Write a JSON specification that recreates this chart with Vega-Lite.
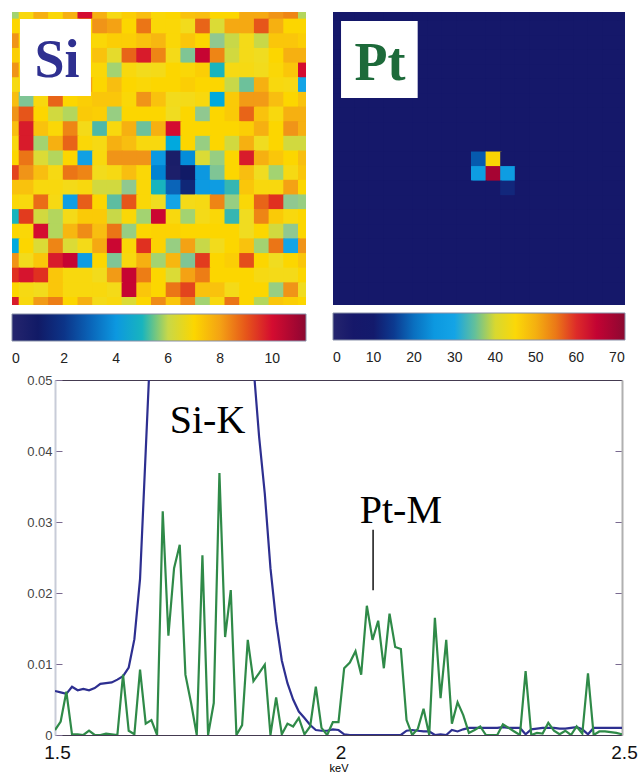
{"$schema":"https://vega.github.io/schema/vega-lite/v6.json","padding":{"left":9,"top":12,"right":0,"bottom":0},"background":"white","config":{"font":"Liberation Sans","view":{"stroke":null}},"bounds":"flush","spacing":368,"vconcat":[{"spacing":27,"bounds":"flush","hconcat":[{"width":294,"height":293,"layer":[{"data":{"values":[
{"c":0,"r":0,"v":5.8},{"c":1,"r":0,"v":6.8},{"c":2,"r":0,"v":7.8},{"c":3,"r":0,"v":6.9},{"c":4,"r":0,"v":7.8},{"c":5,"r":0,"v":10},{"c":6,"r":0,"v":7.8},{"c":7,"r":0,"v":6.7},{"c":8,"r":0,"v":7.2},{"c":9,"r":0,"v":7.6},{"c":10,"r":0,"v":6.9},{"c":11,"r":0,"v":7},{"c":12,"r":0,"v":7.5},{"c":13,"r":0,"v":7.6},{"c":14,"r":0,"v":7},{"c":15,"r":0,"v":7},{"c":16,"r":0,"v":7.9},{"c":17,"r":0,"v":7.9},{"c":18,"r":0,"v":8.2},{"c":19,"r":0,"v":8.4},{"c":20,"r":0,"v":5.9},
{"c":0,"r":1,"v":7},{"c":1,"r":1,"v":7},{"c":2,"r":1,"v":7},{"c":3,"r":1,"v":7},{"c":4,"r":1,"v":7},{"c":5,"r":1,"v":7},{"c":6,"r":1,"v":8.2},{"c":7,"r":1,"v":8},{"c":8,"r":1,"v":7},{"c":9,"r":1,"v":8.6},{"c":10,"r":1,"v":6.9},{"c":11,"r":1,"v":6.9},{"c":12,"r":1,"v":6.5},{"c":13,"r":1,"v":8.8},{"c":14,"r":1,"v":6.2},{"c":15,"r":1,"v":7.9},{"c":16,"r":1,"v":7.9},{"c":17,"r":1,"v":9},{"c":18,"r":1,"v":7.8},{"c":19,"r":1,"v":7},{"c":20,"r":1,"v":7},
{"c":0,"r":2,"v":8.2},{"c":1,"r":2,"v":7},{"c":2,"r":2,"v":7},{"c":3,"r":2,"v":7},{"c":4,"r":2,"v":7},{"c":5,"r":2,"v":7},{"c":6,"r":2,"v":6.9},{"c":7,"r":2,"v":7.2},{"c":8,"r":2,"v":7.2},{"c":9,"r":2,"v":7.5},{"c":10,"r":2,"v":7.7},{"c":11,"r":2,"v":6.9},{"c":12,"r":2,"v":7.4},{"c":13,"r":2,"v":7},{"c":14,"r":2,"v":5.6},{"c":15,"r":2,"v":6},{"c":16,"r":2,"v":6.6},{"c":17,"r":2,"v":6},{"c":18,"r":2,"v":7.4},{"c":19,"r":2,"v":7.4},{"c":20,"r":2,"v":7.2},
{"c":0,"r":3,"v":7.2},{"c":1,"r":3,"v":7},{"c":2,"r":3,"v":7},{"c":3,"r":3,"v":7},{"c":4,"r":3,"v":7},{"c":5,"r":3,"v":7},{"c":6,"r":3,"v":7.5},{"c":7,"r":3,"v":6.3},{"c":8,"r":3,"v":8.8},{"c":9,"r":3,"v":9.8},{"c":10,"r":3,"v":8.4},{"c":11,"r":3,"v":6.6},{"c":12,"r":3,"v":5.5},{"c":13,"r":3,"v":10.3},{"c":14,"r":3,"v":8.4},{"c":15,"r":3,"v":6.1},{"c":16,"r":3,"v":6.6},{"c":17,"r":3,"v":6.4},{"c":18,"r":3,"v":7},{"c":19,"r":3,"v":7.8},{"c":20,"r":3,"v":7.8},
{"c":0,"r":4,"v":8.2},{"c":1,"r":4,"v":7},{"c":2,"r":4,"v":7},{"c":3,"r":4,"v":7},{"c":4,"r":4,"v":7},{"c":5,"r":4,"v":7},{"c":6,"r":4,"v":6.9},{"c":7,"r":4,"v":5.8},{"c":8,"r":4,"v":6.8},{"c":9,"r":4,"v":6.5},{"c":10,"r":4,"v":6.6},{"c":11,"r":4,"v":7},{"c":12,"r":4,"v":6.9},{"c":13,"r":4,"v":7.2},{"c":14,"r":4,"v":5},{"c":15,"r":4,"v":6.7},{"c":16,"r":4,"v":6.7},{"c":17,"r":4,"v":6.5},{"c":18,"r":4,"v":6.9},{"c":19,"r":4,"v":7.4},{"c":20,"r":4,"v":10},
{"c":0,"r":5,"v":6.7},{"c":1,"r":5,"v":7},{"c":2,"r":5,"v":7},{"c":3,"r":5,"v":7},{"c":4,"r":5,"v":7},{"c":5,"r":5,"v":8},{"c":6,"r":5,"v":7},{"c":7,"r":5,"v":7.6},{"c":8,"r":5,"v":7},{"c":9,"r":5,"v":6.9},{"c":10,"r":5,"v":7},{"c":11,"r":5,"v":7},{"c":12,"r":5,"v":7.2},{"c":13,"r":5,"v":7},{"c":14,"r":5,"v":7},{"c":15,"r":5,"v":6},{"c":16,"r":5,"v":5.4},{"c":17,"r":5,"v":7.8},{"c":18,"r":5,"v":6.8},{"c":19,"r":5,"v":6.7},{"c":20,"r":5,"v":4.6},
{"c":0,"r":6,"v":7.6},{"c":1,"r":6,"v":5.5},{"c":2,"r":6,"v":6.8},{"c":3,"r":6,"v":8.8},{"c":4,"r":6,"v":7},{"c":5,"r":6,"v":7.2},{"c":6,"r":6,"v":7.4},{"c":7,"r":6,"v":7.4},{"c":8,"r":6,"v":6.9},{"c":9,"r":6,"v":8.2},{"c":10,"r":6,"v":7.5},{"c":11,"r":6,"v":6.5},{"c":12,"r":6,"v":6.6},{"c":13,"r":6,"v":6.8},{"c":14,"r":6,"v":4.7},{"c":15,"r":6,"v":7.3},{"c":16,"r":6,"v":8.1},{"c":17,"r":6,"v":8.1},{"c":18,"r":6,"v":7.6},{"c":19,"r":6,"v":7},{"c":20,"r":6,"v":7.5},
{"c":0,"r":7,"v":8.2},{"c":1,"r":7,"v":9},{"c":2,"r":7,"v":7},{"c":3,"r":7,"v":6.1},{"c":4,"r":7,"v":5.9},{"c":5,"r":7,"v":7.3},{"c":6,"r":7,"v":7.2},{"c":7,"r":7,"v":5.7},{"c":8,"r":7,"v":7},{"c":9,"r":7,"v":7},{"c":10,"r":7,"v":7},{"c":11,"r":7,"v":6.4},{"c":12,"r":7,"v":7},{"c":13,"r":7,"v":5.6},{"c":14,"r":7,"v":7},{"c":15,"r":7,"v":7.3},{"c":16,"r":7,"v":8.8},{"c":17,"r":7,"v":7.5},{"c":18,"r":7,"v":6.8},{"c":19,"r":7,"v":7.8},{"c":20,"r":7,"v":7.8},
{"c":0,"r":8,"v":7.6},{"c":1,"r":8,"v":9.8},{"c":2,"r":8,"v":7.5},{"c":3,"r":8,"v":6.9},{"c":4,"r":8,"v":8.4},{"c":5,"r":8,"v":6.6},{"c":6,"r":8,"v":5.2},{"c":7,"r":8,"v":6.8},{"c":8,"r":8,"v":7.8},{"c":9,"r":8,"v":5.4},{"c":10,"r":8,"v":7.8},{"c":11,"r":8,"v":10},{"c":12,"r":8,"v":7},{"c":13,"r":8,"v":7},{"c":14,"r":8,"v":7},{"c":15,"r":8,"v":7},{"c":16,"r":8,"v":7.2},{"c":17,"r":8,"v":7.8},{"c":18,"r":8,"v":7},{"c":19,"r":8,"v":8.2},{"c":20,"r":8,"v":7.8},
{"c":0,"r":9,"v":6.8},{"c":1,"r":9,"v":9.8},{"c":2,"r":9,"v":5.8},{"c":3,"r":9,"v":7.8},{"c":4,"r":9,"v":8.8},{"c":5,"r":9,"v":6.9},{"c":6,"r":9,"v":6.7},{"c":7,"r":9,"v":7.8},{"c":8,"r":9,"v":7.6},{"c":9,"r":9,"v":6.8},{"c":10,"r":9,"v":6.8},{"c":11,"r":9,"v":4.7},{"c":12,"r":9,"v":7},{"c":13,"r":9,"v":5.7},{"c":14,"r":9,"v":7},{"c":15,"r":9,"v":6.1},{"c":16,"r":9,"v":7.8},{"c":17,"r":9,"v":6.4},{"c":18,"r":9,"v":7},{"c":19,"r":9,"v":6.1},{"c":20,"r":9,"v":6.1},
{"c":0,"r":10,"v":7},{"c":1,"r":10,"v":8.6},{"c":2,"r":10,"v":6.2},{"c":3,"r":10,"v":5.9},{"c":4,"r":10,"v":7},{"c":5,"r":10,"v":4.4},{"c":6,"r":10,"v":6.8},{"c":7,"r":10,"v":8.2},{"c":8,"r":10,"v":8.2},{"c":9,"r":10,"v":8.2},{"c":10,"r":10,"v":4},{"c":11,"r":10,"v":0.6},{"c":12,"r":10,"v":3.8},{"c":13,"r":10,"v":6.2},{"c":14,"r":10,"v":5.7},{"c":15,"r":10,"v":7},{"c":16,"r":10,"v":9.8},{"c":17,"r":10,"v":7.8},{"c":18,"r":10,"v":7.4},{"c":19,"r":10,"v":7},{"c":20,"r":10,"v":7.6},
{"c":0,"r":11,"v":9.2},{"c":1,"r":11,"v":8.2},{"c":2,"r":11,"v":7.6},{"c":3,"r":11,"v":6.7},{"c":4,"r":11,"v":8.6},{"c":5,"r":11,"v":8.4},{"c":6,"r":11,"v":6.5},{"c":7,"r":11,"v":6.7},{"c":8,"r":11,"v":7.6},{"c":9,"r":11,"v":6.9},{"c":10,"r":11,"v":3.6},{"c":11,"r":11,"v":0.5},{"c":12,"r":11,"v":1},{"c":13,"r":11,"v":4},{"c":14,"r":11,"v":5.5},{"c":15,"r":11,"v":7},{"c":16,"r":11,"v":7.6},{"c":17,"r":11,"v":6.4},{"c":18,"r":11,"v":5.8},{"c":19,"r":11,"v":6.7},{"c":20,"r":11,"v":7.4},
{"c":0,"r":12,"v":7.5},{"c":1,"r":12,"v":7.5},{"c":2,"r":12,"v":6.8},{"c":3,"r":12,"v":6.8},{"c":4,"r":12,"v":6.6},{"c":5,"r":12,"v":6.8},{"c":6,"r":12,"v":6.1},{"c":7,"r":12,"v":6.1},{"c":8,"r":12,"v":5.6},{"c":9,"r":12,"v":6.9},{"c":10,"r":12,"v":5},{"c":11,"r":12,"v":3},{"c":12,"r":12,"v":1.5},{"c":13,"r":12,"v":4.1},{"c":14,"r":12,"v":4.2},{"c":15,"r":12,"v":5.1},{"c":16,"r":12,"v":7.4},{"c":17,"r":12,"v":6.8},{"c":18,"r":12,"v":6.8},{"c":19,"r":12,"v":8},{"c":20,"r":12,"v":7},
{"c":0,"r":13,"v":6.9},{"c":1,"r":13,"v":6.8},{"c":2,"r":13,"v":8.7},{"c":3,"r":13,"v":6.7},{"c":4,"r":13,"v":4.3},{"c":5,"r":13,"v":8.9},{"c":6,"r":13,"v":7},{"c":7,"r":13,"v":5.3},{"c":8,"r":13,"v":9},{"c":9,"r":13,"v":6.9},{"c":10,"r":13,"v":6.4},{"c":11,"r":13,"v":4.6},{"c":12,"r":13,"v":6.6},{"c":13,"r":13,"v":6.7},{"c":14,"r":13,"v":8.4},{"c":15,"r":13,"v":5.7},{"c":16,"r":13,"v":6.9},{"c":17,"r":13,"v":8.8},{"c":18,"r":13,"v":9.4},{"c":19,"r":13,"v":5.6},{"c":20,"r":13,"v":5.7},
{"c":0,"r":14,"v":5},{"c":1,"r":14,"v":9.3},{"c":2,"r":14,"v":6.1},{"c":3,"r":14,"v":5.9},{"c":4,"r":14,"v":6.6},{"c":5,"r":14,"v":7.3},{"c":6,"r":14,"v":7.3},{"c":7,"r":14,"v":6},{"c":8,"r":14,"v":6.9},{"c":9,"r":14,"v":5.8},{"c":10,"r":14,"v":10.2},{"c":11,"r":14,"v":6.8},{"c":12,"r":14,"v":5.8},{"c":13,"r":14,"v":6.6},{"c":14,"r":14,"v":6.9},{"c":15,"r":14,"v":5.1},{"c":16,"r":14,"v":6.4},{"c":17,"r":14,"v":8.4},{"c":18,"r":14,"v":7.3},{"c":19,"r":14,"v":6.8},{"c":20,"r":14,"v":7},
{"c":0,"r":15,"v":7},{"c":1,"r":15,"v":6.9},{"c":2,"r":15,"v":10},{"c":3,"r":15,"v":5.9},{"c":4,"r":15,"v":7.7},{"c":5,"r":15,"v":8.3},{"c":6,"r":15,"v":7.6},{"c":7,"r":15,"v":8.6},{"c":8,"r":15,"v":5.7},{"c":9,"r":15,"v":7},{"c":10,"r":15,"v":7.1},{"c":11,"r":15,"v":7.1},{"c":12,"r":15,"v":7},{"c":13,"r":15,"v":7},{"c":14,"r":15,"v":7},{"c":15,"r":15,"v":7},{"c":16,"r":15,"v":6.4},{"c":17,"r":15,"v":7},{"c":18,"r":15,"v":6.1},{"c":19,"r":15,"v":5.6},{"c":20,"r":15,"v":7},
{"c":0,"r":16,"v":4.7},{"c":1,"r":16,"v":7},{"c":2,"r":16,"v":6.2},{"c":3,"r":16,"v":8.4},{"c":4,"r":16,"v":6.2},{"c":5,"r":16,"v":6.6},{"c":6,"r":16,"v":7.9},{"c":7,"r":16,"v":10.2},{"c":8,"r":16,"v":6.9},{"c":9,"r":16,"v":9.4},{"c":10,"r":16,"v":7.1},{"c":11,"r":16,"v":5.7},{"c":12,"r":16,"v":8},{"c":13,"r":16,"v":6},{"c":14,"r":16,"v":6.5},{"c":15,"r":16,"v":7},{"c":16,"r":16,"v":7.5},{"c":17,"r":16,"v":5.8},{"c":18,"r":16,"v":8.6},{"c":19,"r":16,"v":4.6},{"c":20,"r":16,"v":8.2},
{"c":0,"r":17,"v":8.2},{"c":1,"r":17,"v":6.5},{"c":2,"r":17,"v":7.4},{"c":3,"r":17,"v":9.8},{"c":4,"r":17,"v":10.3},{"c":5,"r":17,"v":4.2},{"c":6,"r":17,"v":7},{"c":7,"r":17,"v":5.5},{"c":8,"r":17,"v":6.8},{"c":9,"r":17,"v":7.8},{"c":10,"r":17,"v":5.8},{"c":11,"r":17,"v":7.7},{"c":12,"r":17,"v":5.5},{"c":13,"r":17,"v":9.3},{"c":14,"r":17,"v":7},{"c":15,"r":17,"v":7.2},{"c":16,"r":17,"v":9.1},{"c":17,"r":17,"v":7},{"c":18,"r":17,"v":6.4},{"c":19,"r":17,"v":7},{"c":20,"r":17,"v":7.4},
{"c":0,"r":18,"v":9.4},{"c":1,"r":18,"v":9.9},{"c":2,"r":18,"v":9.4},{"c":3,"r":18,"v":7.4},{"c":4,"r":18,"v":6.8},{"c":5,"r":18,"v":6.8},{"c":6,"r":18,"v":6.5},{"c":7,"r":18,"v":8.1},{"c":8,"r":18,"v":10.3},{"c":9,"r":18,"v":8.5},{"c":10,"r":18,"v":7},{"c":11,"r":18,"v":6.2},{"c":12,"r":18,"v":8},{"c":13,"r":18,"v":8.5},{"c":14,"r":18,"v":7},{"c":15,"r":18,"v":7},{"c":16,"r":18,"v":7},{"c":17,"r":18,"v":6.7},{"c":18,"r":18,"v":6.6},{"c":19,"r":18,"v":6.6},{"c":20,"r":18,"v":7},
{"c":0,"r":19,"v":7},{"c":1,"r":19,"v":6.7},{"c":2,"r":19,"v":6.5},{"c":3,"r":19,"v":7.4},{"c":4,"r":19,"v":6.8},{"c":5,"r":19,"v":6.8},{"c":6,"r":19,"v":6.8},{"c":7,"r":19,"v":6.6},{"c":8,"r":19,"v":10.3},{"c":9,"r":19,"v":7.4},{"c":10,"r":19,"v":7},{"c":11,"r":19,"v":8.6},{"c":12,"r":19,"v":9.2},{"c":13,"r":19,"v":7.5},{"c":14,"r":19,"v":7.5},{"c":15,"r":19,"v":6.6},{"c":16,"r":19,"v":7},{"c":17,"r":19,"v":7},{"c":18,"r":19,"v":5.7},{"c":19,"r":19,"v":8.2},{"c":20,"r":19,"v":6.4},
{"c":0,"r":20,"v":9.8},{"c":1,"r":20,"v":6.8},{"c":2,"r":20,"v":8.1},{"c":3,"r":20,"v":8.5},{"c":4,"r":20,"v":7},{"c":5,"r":20,"v":7.8},{"c":6,"r":20,"v":6.6},{"c":7,"r":20,"v":6.8},{"c":8,"r":20,"v":6.2},{"c":9,"r":20,"v":7},{"c":10,"r":20,"v":8.3},{"c":11,"r":20,"v":7.4},{"c":12,"r":20,"v":8.4},{"c":13,"r":20,"v":5.8},{"c":14,"r":20,"v":6.8},{"c":15,"r":20,"v":8.6},{"c":16,"r":20,"v":7},{"c":17,"r":20,"v":5.9},{"c":18,"r":20,"v":7.4},{"c":19,"r":20,"v":7.2},{"c":20,"r":20,"v":7}
]},"mark":{"type":"rect","width":16,"height":16,"clip":true},"encoding":{"x":{"field":"c","type":"quantitative","scale":{"domain":[0,20]},"axis":null},"y":{"field":"r","type":"quantitative","scale":{"domain":[0,20],"reverse":true},"axis":null},"color":{"field":"v","type":"quantitative","scale":{"domain":[0,1,2,3,4,4.6,5.2,5.6,6,6.4,7,7.6,8.2,8.8,9.4,10,10.6,11.3],"range":["#25256e","#111a66","#0c3488","#0a64b8","#0c98e0","#14a4e6","#4db8a8","#90c890","#c8d848","#f0dc20","#fcd600","#f8be10","#f09418","#e86418","#e03020","#d40c30","#b80034","#8a0a30"]},"legend":{"orient":"none","legendX":0,"legendY":302,"direction":"horizontal","title":null,"gradientLength":294,"gradientThickness":27,"gradientStrokeColor":"#8890a8","gradientStrokeWidth":1,"values":[0,2,4,6,8,10],"labelFontSize":14,"labelColor":"#222","labelOffset":11}}}},{"data":{"values":[{}]},"mark":{"type":"rect","color":"white"},"encoding":{"x":{"datum":0.54,"type":"quantitative"},"x2":{"datum":5.37},"y":{"datum":0.48,"type":"quantitative"},"y2":{"datum":5.73}}},{"data":{"values":[{"t":"Si"}]},"mark":{"type":"text","font":"Liberation Serif","fontWeight":"bold","fontSize":54,"color":"#2f3090","baseline":"alphabetic","align":"center"},"encoding":{"text":{"field":"t"},"x":{"datum":3.06,"type":"quantitative"},"y":{"datum":4.44,"type":"quantitative"}}}],"resolve":{"scale":{"color":"independent"}}},
{"width":292,"height":293,"layer":[{"data":{"values":[
{"c":0,"r":0,"v":6},{"c":1,"r":0,"v":6},{"c":2,"r":0,"v":6},{"c":3,"r":0,"v":6},{"c":4,"r":0,"v":6},{"c":5,"r":0,"v":6},{"c":6,"r":0,"v":6},{"c":7,"r":0,"v":6},{"c":8,"r":0,"v":6},{"c":9,"r":0,"v":6},{"c":10,"r":0,"v":6},{"c":11,"r":0,"v":6},{"c":12,"r":0,"v":6},{"c":13,"r":0,"v":6},{"c":14,"r":0,"v":6},{"c":15,"r":0,"v":6},{"c":16,"r":0,"v":6},{"c":17,"r":0,"v":6},{"c":18,"r":0,"v":6},{"c":19,"r":0,"v":6},{"c":20,"r":0,"v":6},
{"c":0,"r":1,"v":6},{"c":1,"r":1,"v":6},{"c":2,"r":1,"v":6},{"c":3,"r":1,"v":6},{"c":4,"r":1,"v":6},{"c":5,"r":1,"v":6},{"c":6,"r":1,"v":6},{"c":7,"r":1,"v":6},{"c":8,"r":1,"v":6},{"c":9,"r":1,"v":6},{"c":10,"r":1,"v":6},{"c":11,"r":1,"v":6},{"c":12,"r":1,"v":6},{"c":13,"r":1,"v":6},{"c":14,"r":1,"v":6},{"c":15,"r":1,"v":6},{"c":16,"r":1,"v":6},{"c":17,"r":1,"v":6},{"c":18,"r":1,"v":6},{"c":19,"r":1,"v":6},{"c":20,"r":1,"v":6},
{"c":0,"r":2,"v":6},{"c":1,"r":2,"v":6},{"c":2,"r":2,"v":6},{"c":3,"r":2,"v":6},{"c":4,"r":2,"v":6},{"c":5,"r":2,"v":6},{"c":6,"r":2,"v":6},{"c":7,"r":2,"v":6},{"c":8,"r":2,"v":6},{"c":9,"r":2,"v":6},{"c":10,"r":2,"v":6},{"c":11,"r":2,"v":6},{"c":12,"r":2,"v":6},{"c":13,"r":2,"v":6},{"c":14,"r":2,"v":6},{"c":15,"r":2,"v":6},{"c":16,"r":2,"v":6},{"c":17,"r":2,"v":6},{"c":18,"r":2,"v":6},{"c":19,"r":2,"v":6},{"c":20,"r":2,"v":6},
{"c":0,"r":3,"v":6},{"c":1,"r":3,"v":6},{"c":2,"r":3,"v":6},{"c":3,"r":3,"v":6},{"c":4,"r":3,"v":6},{"c":5,"r":3,"v":6},{"c":6,"r":3,"v":6},{"c":7,"r":3,"v":6},{"c":8,"r":3,"v":6},{"c":9,"r":3,"v":6},{"c":10,"r":3,"v":6},{"c":11,"r":3,"v":6},{"c":12,"r":3,"v":6},{"c":13,"r":3,"v":6},{"c":14,"r":3,"v":6},{"c":15,"r":3,"v":6},{"c":16,"r":3,"v":6},{"c":17,"r":3,"v":6},{"c":18,"r":3,"v":6},{"c":19,"r":3,"v":6},{"c":20,"r":3,"v":6},
{"c":0,"r":4,"v":6},{"c":1,"r":4,"v":6},{"c":2,"r":4,"v":6},{"c":3,"r":4,"v":6},{"c":4,"r":4,"v":6},{"c":5,"r":4,"v":6},{"c":6,"r":4,"v":6},{"c":7,"r":4,"v":6},{"c":8,"r":4,"v":6},{"c":9,"r":4,"v":6},{"c":10,"r":4,"v":6},{"c":11,"r":4,"v":6},{"c":12,"r":4,"v":6},{"c":13,"r":4,"v":6},{"c":14,"r":4,"v":6},{"c":15,"r":4,"v":6},{"c":16,"r":4,"v":6},{"c":17,"r":4,"v":6},{"c":18,"r":4,"v":6},{"c":19,"r":4,"v":6},{"c":20,"r":4,"v":6},
{"c":0,"r":5,"v":6},{"c":1,"r":5,"v":6},{"c":2,"r":5,"v":6},{"c":3,"r":5,"v":6},{"c":4,"r":5,"v":6},{"c":5,"r":5,"v":6},{"c":6,"r":5,"v":6},{"c":7,"r":5,"v":6},{"c":8,"r":5,"v":6},{"c":9,"r":5,"v":6},{"c":10,"r":5,"v":6},{"c":11,"r":5,"v":6},{"c":12,"r":5,"v":6},{"c":13,"r":5,"v":6},{"c":14,"r":5,"v":6},{"c":15,"r":5,"v":6},{"c":16,"r":5,"v":6},{"c":17,"r":5,"v":6},{"c":18,"r":5,"v":6},{"c":19,"r":5,"v":6},{"c":20,"r":5,"v":6},
{"c":0,"r":6,"v":6},{"c":1,"r":6,"v":6},{"c":2,"r":6,"v":6},{"c":3,"r":6,"v":6},{"c":4,"r":6,"v":6},{"c":5,"r":6,"v":6},{"c":6,"r":6,"v":6},{"c":7,"r":6,"v":6},{"c":8,"r":6,"v":6},{"c":9,"r":6,"v":6},{"c":10,"r":6,"v":6},{"c":11,"r":6,"v":6},{"c":12,"r":6,"v":6},{"c":13,"r":6,"v":6},{"c":14,"r":6,"v":6},{"c":15,"r":6,"v":6},{"c":16,"r":6,"v":6},{"c":17,"r":6,"v":6},{"c":18,"r":6,"v":6},{"c":19,"r":6,"v":6},{"c":20,"r":6,"v":6},
{"c":0,"r":7,"v":6},{"c":1,"r":7,"v":6},{"c":2,"r":7,"v":6},{"c":3,"r":7,"v":6},{"c":4,"r":7,"v":6},{"c":5,"r":7,"v":6},{"c":6,"r":7,"v":6},{"c":7,"r":7,"v":6},{"c":8,"r":7,"v":6},{"c":9,"r":7,"v":6},{"c":10,"r":7,"v":6},{"c":11,"r":7,"v":6},{"c":12,"r":7,"v":6},{"c":13,"r":7,"v":6},{"c":14,"r":7,"v":6},{"c":15,"r":7,"v":6},{"c":16,"r":7,"v":6},{"c":17,"r":7,"v":6},{"c":18,"r":7,"v":6},{"c":19,"r":7,"v":6},{"c":20,"r":7,"v":6},
{"c":0,"r":8,"v":6},{"c":1,"r":8,"v":6},{"c":2,"r":8,"v":6},{"c":3,"r":8,"v":6},{"c":4,"r":8,"v":6},{"c":5,"r":8,"v":6},{"c":6,"r":8,"v":6},{"c":7,"r":8,"v":6},{"c":8,"r":8,"v":6},{"c":9,"r":8,"v":6},{"c":10,"r":8,"v":6},{"c":11,"r":8,"v":6},{"c":12,"r":8,"v":6},{"c":13,"r":8,"v":6},{"c":14,"r":8,"v":6},{"c":15,"r":8,"v":6},{"c":16,"r":8,"v":6},{"c":17,"r":8,"v":6},{"c":18,"r":8,"v":6},{"c":19,"r":8,"v":6},{"c":20,"r":8,"v":6},
{"c":0,"r":9,"v":6},{"c":1,"r":9,"v":6},{"c":2,"r":9,"v":6},{"c":3,"r":9,"v":6},{"c":4,"r":9,"v":6},{"c":5,"r":9,"v":6},{"c":6,"r":9,"v":6},{"c":7,"r":9,"v":6},{"c":8,"r":9,"v":6},{"c":9,"r":9,"v":6},{"c":10,"r":9,"v":6},{"c":11,"r":9,"v":6},{"c":12,"r":9,"v":6},{"c":13,"r":9,"v":6},{"c":14,"r":9,"v":6},{"c":15,"r":9,"v":6},{"c":16,"r":9,"v":6},{"c":17,"r":9,"v":6},{"c":18,"r":9,"v":6},{"c":19,"r":9,"v":6},{"c":20,"r":9,"v":6},
{"c":0,"r":10,"v":6},{"c":1,"r":10,"v":6},{"c":2,"r":10,"v":6},{"c":3,"r":10,"v":6},{"c":4,"r":10,"v":6},{"c":5,"r":10,"v":6},{"c":6,"r":10,"v":6},{"c":7,"r":10,"v":6},{"c":8,"r":10,"v":6},{"c":9,"r":10,"v":6},{"c":10,"r":10,"v":18},{"c":11,"r":10,"v":46},{"c":12,"r":10,"v":6},{"c":13,"r":10,"v":6},{"c":14,"r":10,"v":6},{"c":15,"r":10,"v":6},{"c":16,"r":10,"v":6},{"c":17,"r":10,"v":6},{"c":18,"r":10,"v":6},{"c":19,"r":10,"v":6},{"c":20,"r":10,"v":6},
{"c":0,"r":11,"v":6},{"c":1,"r":11,"v":6},{"c":2,"r":11,"v":6},{"c":3,"r":11,"v":6},{"c":4,"r":11,"v":6},{"c":5,"r":11,"v":6},{"c":6,"r":11,"v":6},{"c":7,"r":11,"v":6},{"c":8,"r":11,"v":6},{"c":9,"r":11,"v":6},{"c":10,"r":11,"v":27},{"c":11,"r":11,"v":69},{"c":12,"r":11,"v":27},{"c":13,"r":11,"v":6},{"c":14,"r":11,"v":6},{"c":15,"r":11,"v":6},{"c":16,"r":11,"v":6},{"c":17,"r":11,"v":6},{"c":18,"r":11,"v":6},{"c":19,"r":11,"v":6},{"c":20,"r":11,"v":6},
{"c":0,"r":12,"v":6},{"c":1,"r":12,"v":6},{"c":2,"r":12,"v":6},{"c":3,"r":12,"v":6},{"c":4,"r":12,"v":6},{"c":5,"r":12,"v":6},{"c":6,"r":12,"v":6},{"c":7,"r":12,"v":6},{"c":8,"r":12,"v":6},{"c":9,"r":12,"v":6},{"c":10,"r":12,"v":6},{"c":11,"r":12,"v":6},{"c":12,"r":12,"v":12},{"c":13,"r":12,"v":6},{"c":14,"r":12,"v":6},{"c":15,"r":12,"v":6},{"c":16,"r":12,"v":6},{"c":17,"r":12,"v":6},{"c":18,"r":12,"v":6},{"c":19,"r":12,"v":6},{"c":20,"r":12,"v":6},
{"c":0,"r":13,"v":6},{"c":1,"r":13,"v":6},{"c":2,"r":13,"v":6},{"c":3,"r":13,"v":6},{"c":4,"r":13,"v":6},{"c":5,"r":13,"v":6},{"c":6,"r":13,"v":6},{"c":7,"r":13,"v":6},{"c":8,"r":13,"v":6},{"c":9,"r":13,"v":6},{"c":10,"r":13,"v":6},{"c":11,"r":13,"v":6},{"c":12,"r":13,"v":6},{"c":13,"r":13,"v":6},{"c":14,"r":13,"v":6},{"c":15,"r":13,"v":6},{"c":16,"r":13,"v":6},{"c":17,"r":13,"v":6},{"c":18,"r":13,"v":6},{"c":19,"r":13,"v":6},{"c":20,"r":13,"v":6},
{"c":0,"r":14,"v":6},{"c":1,"r":14,"v":6},{"c":2,"r":14,"v":6},{"c":3,"r":14,"v":6},{"c":4,"r":14,"v":6},{"c":5,"r":14,"v":6},{"c":6,"r":14,"v":6},{"c":7,"r":14,"v":6},{"c":8,"r":14,"v":6},{"c":9,"r":14,"v":6},{"c":10,"r":14,"v":6},{"c":11,"r":14,"v":6},{"c":12,"r":14,"v":6},{"c":13,"r":14,"v":6},{"c":14,"r":14,"v":6},{"c":15,"r":14,"v":6},{"c":16,"r":14,"v":6},{"c":17,"r":14,"v":6},{"c":18,"r":14,"v":6},{"c":19,"r":14,"v":6},{"c":20,"r":14,"v":6},
{"c":0,"r":15,"v":6},{"c":1,"r":15,"v":6},{"c":2,"r":15,"v":6},{"c":3,"r":15,"v":6},{"c":4,"r":15,"v":6},{"c":5,"r":15,"v":6},{"c":6,"r":15,"v":6},{"c":7,"r":15,"v":6},{"c":8,"r":15,"v":6},{"c":9,"r":15,"v":6},{"c":10,"r":15,"v":6},{"c":11,"r":15,"v":6},{"c":12,"r":15,"v":6},{"c":13,"r":15,"v":6},{"c":14,"r":15,"v":6},{"c":15,"r":15,"v":6},{"c":16,"r":15,"v":6},{"c":17,"r":15,"v":6},{"c":18,"r":15,"v":6},{"c":19,"r":15,"v":6},{"c":20,"r":15,"v":6},
{"c":0,"r":16,"v":6},{"c":1,"r":16,"v":6},{"c":2,"r":16,"v":6},{"c":3,"r":16,"v":6},{"c":4,"r":16,"v":6},{"c":5,"r":16,"v":6},{"c":6,"r":16,"v":6},{"c":7,"r":16,"v":6},{"c":8,"r":16,"v":6},{"c":9,"r":16,"v":6},{"c":10,"r":16,"v":6},{"c":11,"r":16,"v":6},{"c":12,"r":16,"v":6},{"c":13,"r":16,"v":6},{"c":14,"r":16,"v":6},{"c":15,"r":16,"v":6},{"c":16,"r":16,"v":6},{"c":17,"r":16,"v":6},{"c":18,"r":16,"v":6},{"c":19,"r":16,"v":6},{"c":20,"r":16,"v":6},
{"c":0,"r":17,"v":6},{"c":1,"r":17,"v":6},{"c":2,"r":17,"v":6},{"c":3,"r":17,"v":6},{"c":4,"r":17,"v":6},{"c":5,"r":17,"v":6},{"c":6,"r":17,"v":6},{"c":7,"r":17,"v":6},{"c":8,"r":17,"v":6},{"c":9,"r":17,"v":6},{"c":10,"r":17,"v":6},{"c":11,"r":17,"v":6},{"c":12,"r":17,"v":6},{"c":13,"r":17,"v":6},{"c":14,"r":17,"v":6},{"c":15,"r":17,"v":6},{"c":16,"r":17,"v":6},{"c":17,"r":17,"v":6},{"c":18,"r":17,"v":6},{"c":19,"r":17,"v":6},{"c":20,"r":17,"v":6},
{"c":0,"r":18,"v":6},{"c":1,"r":18,"v":6},{"c":2,"r":18,"v":6},{"c":3,"r":18,"v":6},{"c":4,"r":18,"v":6},{"c":5,"r":18,"v":6},{"c":6,"r":18,"v":6},{"c":7,"r":18,"v":6},{"c":8,"r":18,"v":6},{"c":9,"r":18,"v":6},{"c":10,"r":18,"v":6},{"c":11,"r":18,"v":6},{"c":12,"r":18,"v":6},{"c":13,"r":18,"v":6},{"c":14,"r":18,"v":6},{"c":15,"r":18,"v":6},{"c":16,"r":18,"v":6},{"c":17,"r":18,"v":6},{"c":18,"r":18,"v":6},{"c":19,"r":18,"v":6},{"c":20,"r":18,"v":6},
{"c":0,"r":19,"v":6},{"c":1,"r":19,"v":6},{"c":2,"r":19,"v":6},{"c":3,"r":19,"v":6},{"c":4,"r":19,"v":6},{"c":5,"r":19,"v":6},{"c":6,"r":19,"v":6},{"c":7,"r":19,"v":6},{"c":8,"r":19,"v":6},{"c":9,"r":19,"v":6},{"c":10,"r":19,"v":6},{"c":11,"r":19,"v":6},{"c":12,"r":19,"v":6},{"c":13,"r":19,"v":6},{"c":14,"r":19,"v":6},{"c":15,"r":19,"v":6},{"c":16,"r":19,"v":6},{"c":17,"r":19,"v":6},{"c":18,"r":19,"v":6},{"c":19,"r":19,"v":6},{"c":20,"r":19,"v":6},
{"c":0,"r":20,"v":6},{"c":1,"r":20,"v":6},{"c":2,"r":20,"v":6},{"c":3,"r":20,"v":6},{"c":4,"r":20,"v":6},{"c":5,"r":20,"v":6},{"c":6,"r":20,"v":6},{"c":7,"r":20,"v":6},{"c":8,"r":20,"v":6},{"c":9,"r":20,"v":6},{"c":10,"r":20,"v":6},{"c":11,"r":20,"v":6},{"c":12,"r":20,"v":6},{"c":13,"r":20,"v":6},{"c":14,"r":20,"v":6},{"c":15,"r":20,"v":6},{"c":16,"r":20,"v":6},{"c":17,"r":20,"v":6},{"c":18,"r":20,"v":6},{"c":19,"r":20,"v":6},{"c":20,"r":20,"v":6}
]},"mark":{"type":"rect","width":16,"height":16,"clip":true},"encoding":{"x":{"field":"c","type":"quantitative","scale":{"domain":[0,20]},"axis":null},"y":{"field":"r","type":"quantitative","scale":{"domain":[-0.14,20],"reverse":true,"nice":false},"axis":null},"color":{"field":"v","type":"quantitative","scale":{"domain":[0,5,10,15,20,25,30,34,37,40,43,47,50,54,58,62,67,72],"range":["#25256e","#16186a","#131a6c","#0c3a90","#0a70c0","#0c98e0","#14a4e6","#4db8a8","#a0cc80","#d8d830","#fde010","#f8d000","#f4b010","#ec8818","#e44020","#d40c30","#b80034","#8a0a30"]},"legend":{"orient":"none","legendX":0,"legendY":301,"direction":"horizontal","title":null,"gradientLength":292,"gradientThickness":27,"gradientStrokeColor":"#8890a8","gradientStrokeWidth":1,"values":[0,10,20,30,40,50,60,70],"labelFontSize":14,"labelColor":"#222","labelOffset":11}}}},{"data":{"values":[{}]},"mark":{"type":"rect","color":"white"},"encoding":{"x":{"datum":0.55,"type":"quantitative"},"x2":{"datum":5.8},"y":{"datum":0.48,"type":"quantitative"},"y2":{"datum":5.77}}},{"data":{"values":[{"t":"Pt"}]},"mark":{"type":"text","font":"Liberation Serif","fontWeight":"bold","fontSize":54,"color":"#1d6a3a","baseline":"alphabetic","align":"center"},"encoding":{"text":{"field":"t"},"x":{"datum":3.22,"type":"quantitative"},"y":{"datum":4.54,"type":"quantitative"}}}]}],"resolve":{"scale":{"color":"independent"}}},
{"spacing":42,"bounds":"flush","hconcat":[{"width":1,"height":355,"data":{"values":[{}]},"mark":{"type":"point","opacity":0},"encoding":{}},
{"width":567,"height":355,"data":{"values":[
{"e":1.50,"si":0.0062,"pt":0.0007},{"e":1.51,"si":0.006,"pt":0.0019},{"e":1.52,"si":0.0058,"pt":0.0061},{"e":1.53,"si":0.0068,"pt":0.0001},{"e":1.54,"si":0.0063,"pt":0.0001},{"e":1.55,"si":0.0065,"pt":0},{"e":1.56,"si":0.0063,"pt":0.0006},{"e":1.57,"si":0.0066,"pt":0},{"e":1.58,"si":0.0072,"pt":0},{"e":1.59,"si":0.0073,"pt":0.0002},{"e":1.60,"si":0.0074,"pt":0.0001},{"e":1.61,"si":0.0078,"pt":0},{"e":1.62,"si":0.0083,"pt":0.0085},{"e":1.63,"si":0.0095,"pt":0.0006},{"e":1.64,"si":0.0135,"pt":0.0001},{"e":1.65,"si":0.022,"pt":0.0092},{"e":1.66,"si":0.04,"pt":0.0016},{"e":1.67,"si":0.058,"pt":0.0021},{"e":1.68,"si":0.1,"pt":0},{"e":1.69,"si":0.16,"pt":0.0315},{"e":1.70,"si":0.24,"pt":0.014},{"e":1.71,"si":0.33,"pt":0.0235},{"e":1.72,"si":0.45,"pt":0.0268},{"e":1.73,"si":0.6,"pt":0.0085},{"e":1.74,"si":0.75,"pt":0.0045},{"e":1.75,"si":0.85,"pt":0},{"e":1.76,"si":0.8,"pt":0.0253},{"e":1.77,"si":0.7,"pt":0},{"e":1.78,"si":0.55,"pt":0.0045},{"e":1.79,"si":0.42,"pt":0.0369},{"e":1.80,"si":0.3,"pt":0.0138},{"e":1.81,"si":0.2,"pt":0.0204},{"e":1.82,"si":0.14,"pt":0},{"e":1.83,"si":0.1,"pt":0.0014},{"e":1.84,"si":0.07,"pt":0.0134},{"e":1.85,"si":0.052,"pt":0.0076},{"e":1.86,"si":0.042,"pt":0.0087},{"e":1.87,"si":0.034,"pt":0.0099},{"e":1.88,"si":0.0235,"pt":0},{"e":1.89,"si":0.016,"pt":0.0053},{"e":1.90,"si":0.0105,"pt":0.0001},{"e":1.91,"si":0.0073,"pt":0.0016},{"e":1.92,"si":0.005,"pt":0.0012},{"e":1.93,"si":0.0033,"pt":0.0024},{"e":1.94,"si":0.0024,"pt":0.0001},{"e":1.95,"si":0.0014,"pt":0.0012},{"e":1.96,"si":0.0007,"pt":0.0068},{"e":1.97,"si":0.0006,"pt":0.001},{"e":1.98,"si":0.0006,"pt":0},{"e":1.99,"si":0.0008,"pt":0.0018},{"e":2.00,"si":0.0007,"pt":0.0018},{"e":2.01,"si":0.0001,"pt":0.0094},{"e":2.02,"si":0,"pt":0.0102},{"e":2.03,"si":0,"pt":0.0118},{"e":2.04,"si":0,"pt":0.0085},{"e":2.05,"si":0,"pt":0.0182},{"e":2.06,"si":0,"pt":0.0134},{"e":2.07,"si":0,"pt":0.0161},{"e":2.08,"si":0,"pt":0.0094},{"e":2.09,"si":0,"pt":0.0171},{"e":2.10,"si":0,"pt":0.0124},{"e":2.11,"si":0,"pt":0.0121},{"e":2.12,"si":0.0006,"pt":0.0021},{"e":2.13,"si":0.0007,"pt":0},{"e":2.14,"si":0.0006,"pt":0.0009},{"e":2.15,"si":0.0005,"pt":0.0037},{"e":2.16,"si":0.0005,"pt":0},{"e":2.17,"si":0,"pt":0.0165},{"e":2.18,"si":0.0001,"pt":0.0052},{"e":2.19,"si":0,"pt":0.0134},{"e":2.20,"si":0.0007,"pt":0.0016},{"e":2.21,"si":0.0005,"pt":0.0046},{"e":2.22,"si":0.0008,"pt":0.0028},{"e":2.23,"si":0.001,"pt":0.0003},{"e":2.24,"si":0.001,"pt":0.0007},{"e":2.25,"si":0.001,"pt":0.0012},{"e":2.26,"si":0.001,"pt":0},{"e":2.27,"si":0.001,"pt":0},{"e":2.28,"si":0.001,"pt":0},{"e":2.29,"si":0.0011,"pt":0.0015},{"e":2.30,"si":0.001,"pt":0.001},{"e":2.31,"si":0.001,"pt":0.0005},{"e":2.32,"si":0.001,"pt":0},{"e":2.33,"si":0.0001,"pt":0.009},{"e":2.34,"si":0.0008,"pt":0},{"e":2.35,"si":0.0009,"pt":0.0003},{"e":2.36,"si":0.001,"pt":0.0002},{"e":2.37,"si":0.001,"pt":0.0017},{"e":2.38,"si":0.001,"pt":0.0006},{"e":2.39,"si":0.0009,"pt":0.0001},{"e":2.40,"si":0.0009,"pt":0.0006},{"e":2.41,"si":0.001,"pt":0},{"e":2.42,"si":0.0011,"pt":0.0012},{"e":2.43,"si":0.0008,"pt":0.0002},{"e":2.44,"si":0.0001,"pt":0.0087},{"e":2.45,"si":0.001,"pt":0},{"e":2.46,"si":0.001,"pt":0.0005},{"e":2.47,"si":0.001,"pt":0.0005},{"e":2.48,"si":0.001,"pt":0.0004},{"e":2.49,"si":0.001,"pt":0.0003},{"e":2.50,"si":0.001,"pt":0.0001}
]},"layer":[{"mark":{"type":"line","clip":true,"color":"#2d2f90","strokeWidth":2.2},"encoding":{"x":{"field":"e","type":"quantitative","scale":{"domain":[1.5,2.5]},"axis":{"values":[1.5,2,2.5],"format":".1~f","grid":false,"tickSize":0,"labelFontSize":19,"labelColor":"#111","labelPadding":8,"labelOffset":2,"labelFlush":false,"domainColor":"#443a50","domainWidth":1,"title":"keV","titleFontSize":11,"titleFontWeight":"normal","titlePadding":0}},"y":{"field":"si","type":"quantitative","scale":{"domain":[0,0.05]},"axis":{"values":[0,0.01,0.02,0.03,0.04,0.05],"format":".2~f","grid":false,"title":null,"tickSize":-7,"tickColor":"#7a6a90","labelFontSize":13,"labelColor":"#444","labelPadding":10,"domainColor":"#c8ccd8","domainWidth":2}}}},{"mark":{"type":"line","clip":true,"color":"#2f8a48","strokeWidth":2.2},"encoding":{"x":{"field":"e","type":"quantitative","axis":{"orient":"top","labels":false,"ticks":false,"title":null,"grid":false,"domainColor":"#443a50","domainWidth":1}},"y":{"field":"pt","type":"quantitative","axis":{"orient":"right","labels":false,"grid":false,"title":null,"values":[0.01,0.02,0.03,0.04],"tickSize":-7,"tickColor":"#7a6a90","domainColor":"#b0b0b0","domainWidth":2}}}},{"data":{"values":[{"t":"Si-K"}]},"mark":{"type":"text","font":"Liberation Serif","fontSize":40,"color":"#000","baseline":"alphabetic","align":"center"},"encoding":{"text":{"field":"t"},"x":{"datum":1.769,"type":"quantitative","axis":null},"y":{"datum":0.0425,"type":"quantitative","axis":null}}},{"data":{"values":[{"t":"Pt-M"}]},"mark":{"type":"text","font":"Liberation Serif","fontSize":40,"color":"#000","baseline":"alphabetic","align":"center"},"encoding":{"text":{"field":"t"},"x":{"datum":2.11,"type":"quantitative","axis":null},"y":{"datum":0.0299,"type":"quantitative","axis":null}}},{"data":{"values":[{}]},"mark":{"type":"rule","color":"#111","strokeWidth":1.5},"encoding":{"x":{"datum":2.061,"type":"quantitative","axis":null},"y":{"datum":0.0289,"type":"quantitative","axis":null},"y2":{"datum":0.0204}}}],"resolve":{"axis":{"x":"independent","y":"independent"}}}]}],"resolve":{"scale":{"color":"independent"}}}
